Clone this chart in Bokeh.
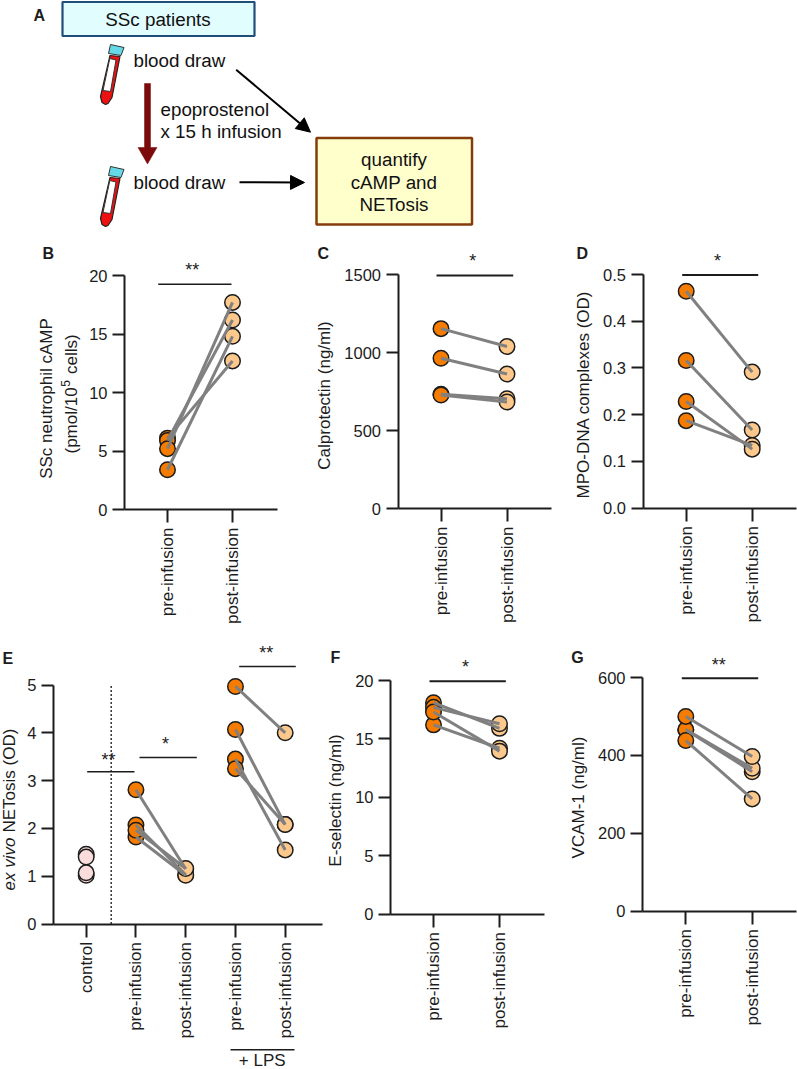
import math
from bokeh.plotting import figure
from bokeh.layouts import column, row
from bokeh.embed import file_html
from bokeh.resources import INLINE
from bokeh.models import (Range1d, FixedTicker, LinearAxis, Arrow, NormalHead)
from bokeh.core.properties import value

# ---- data ----
TICK_PREPOST = ["pre-infusion", "post-infusion"]
TICK_E = ["control", "pre-infusion", "post-infusion", "pre-infusion", "post-infusion"]

B_pre = [6.1, 5.9, 5.2, 3.4]
B_post = [12.7, 16.2, 17.7, 14.8]
B_ticks = [0, 5, 10, 15, 20]

C_pre = [1153, 963, 732, 728]
C_post = [1038, 862, 704, 683]
C_ticks = [0, 500, 1000, 1500]

D_pre = [0.464, 0.316, 0.187, 0.228]
D_post = [0.291, 0.167, 0.134, 0.126]
D_ticks = [0.0, 0.1, 0.2, 0.3, 0.4, 0.5]

E_control = [1.46, 1.02, 1.40, 1.07]
E_pre = [2.81, 2.07, 1.82, 1.96]
E_post = [1.15, 1.03, 1.02, 1.16]
E_lps_pre = [4.97, 4.07, 3.45, 3.25]
E_lps_post = [4.00, 2.08, 1.55, 2.08]
E_ticks = [0, 1, 2, 3, 4, 5]

F_pre = [18.1, 17.7, 16.2, 17.3]
F_post = [15.9, 16.3, 14.2, 13.95]
F_ticks = [0, 5, 10, 15, 20]

G_pre = [466, 466, 500, 438]
G_post = [358, 367, 397, 288]
G_ticks = [0, 200, 400, 600]

# ---- styles ----
FONT = "Liberation Sans"
DARK = "#1c1c1c"
ORANGE = "#F57C00"
PALE = "#FDC88B"
BLUSH = "#FBDCDC"
GREY = "#808080"
T_SIZE = "16.5px"
L_SIZE = "17px"
D_SIZE = "18.8px"
LETTER = "16px"
MARK = 15.5
V = math.pi / 2


class Panel:
    """A figure whose frame fills it; the axes sit at fixed data locations inside."""

    def __init__(self, fig, axis_x, right, y0, ytop, xt, ticks, xlabels, tick_fmt=None):
        fx, fy, w, h = fig
        self.sc_x = (xt[1] - xt[0]) / (len(xlabels) - 1)
        self.x0 = xt[0]
        self.y0 = y0
        self.sc_y = (y0 - ytop) / ticks[-1]
        p = figure(width=w, height=h, output_backend="svg", toolbar_location=None,
                   x_range=Range1d(self.x(fx), self.x(fx + w)),
                   y_range=Range1d(self.y(fy + h), self.y(fy)),
                   min_border=0, outline_line_color=None, background_fill_color="white",
                   border_fill_color="white", x_axis_location=None, y_axis_location=None)
        p.grid.visible = False
        self.p = p
        xa = LinearAxis(ticker=FixedTicker(ticks=list(range(1, len(xlabels) + 1))),
                        major_label_overrides={i + 1: t for i, t in enumerate(xlabels)},
                        major_label_orientation=V, major_tick_in=0, major_tick_out=13,
                        major_label_standoff=5, minor_tick_line_color=None,
                        fixed_location=0, bounds=(self.x(axis_x), self.x(right)),
                        major_label_text_font_size=L_SIZE)
        ya = LinearAxis(ticker=FixedTicker(ticks=ticks), major_tick_in=0, major_tick_out=12,
                        major_label_standoff=5, minor_tick_line_color=None,
                        fixed_location=self.x(axis_x), bounds=(0, ticks[-1]),
                        major_label_text_font_size=T_SIZE)
        if tick_fmt:
            ya.major_label_overrides = {t: tick_fmt % t for t in ticks}
        for a in (xa, ya):
            a.major_label_text_font = FONT
            a.major_label_text_color = DARK
            a.axis_line_color = DARK
            a.major_tick_line_color = DARK
            a.axis_line_width = 2
            a.major_tick_line_width = 2
        p.add_layout(xa, "below")
        p.add_layout(ya, "left")

    def x(self, px):
        return 1 + (px - self.x0) / self.sc_x

    def y(self, py):
        return (self.y0 - py) / self.sc_y

    def text(self, px, py, t, size=L_SIZE, angle=0, align="center", style="normal"):
        self.p.text([self.x(px)], [self.y(py)], text=[t], text_font=value(FONT), text_font_size=size,
                    text_color=DARK, text_font_style=style, angle=angle, text_align=align,
                    text_baseline="middle")

    def letter(self, px, py, t):
        self.text(px, py, t, size=LETTER, align="left", style="bold")

    def pairs(self, x1, x2, pre, post):
        self.p.scatter([x1] * len(pre), pre, size=MARK, fill_color=ORANGE, line_color=DARK, line_width=1.5)
        self.p.scatter([x2] * len(post), post, size=MARK, fill_color=PALE, line_color=DARK, line_width=1.5)
        self.p.multi_line([[x1, x2]] * len(pre), [[a, b] for a, b in zip(pre, post)],
                          line_color=GREY, line_width=3)

    def rule(self, x0, x1, py, width=1.6):
        self.p.line([self.x(x0), self.x(x1)], [self.y(py)] * 2, line_color=DARK, line_width=width)

    def sig(self, x0, x1, py, sx, sy, stars, width=1.6):
        self.rule(x0, x1, py, width)
        self.text(sx, sy, stars, size="18px")


# ---- panel A: a schematic drawn in page pixels ----
A = figure(width=797, height=236, output_backend="svg", toolbar_location=None,
           x_range=Range1d(0, 797), y_range=Range1d(236, 0),
           min_border=0, outline_line_color=None, background_fill_color="white",
           border_fill_color="white", x_axis_location=None, y_axis_location=None)
A.grid.visible = False
A.quad(left=[62], right=[254], top=[1.5], bottom=[35.5], fill_color="#E1FDFE", line_color="#1F4E79", line_width=2.2)
A.quad(left=[316], right=[471.5], top=[137.5], bottom=[224], fill_color="#FFFFCC", line_color="#843C0C", line_width=2.5)
for dy in (0, 122):
    A.patch([110, 123.5, 120.5, 108], [44 + dy, 47 + dy, 55 + dy, 53 + dy], fill_color="#66D9E8", line_color="#333333", line_width=1)
    A.patch([109.5, 119.5, 111.5, 107.5, 105, 101.5, 100],
            [55 + dy, 56 + dy, 97 + dy, 103 + dy, 104 + dy, 102 + dy, 96 + dy],
            fill_color="#EE1111", line_color="#222222", line_width=1.2)
    A.patch([109.3, 115.5, 110, 102.5], [58 + dy, 59.5 + dy, 91 + dy, 90 + dy], fill_color="white", line_color="#333333", line_width=1)
A.patch([144, 150, 150, 156.5, 147, 137.5, 144], [83, 83, 147, 147, 163.5, 147, 147], fill_color="#7B0A0A", line_color="#7B0A0A", line_width=0.5)
for xs, ys, xe, ye in ((235.7, 69.3, 310, 131.7), (239, 181.7, 304, 182)):
    A.add_layout(Arrow(end=NormalHead(size=14, fill_color="black", line_color="black"),
                       x_start=xs, y_start=ys, x_end=xe, y_end=ye, line_color="black", line_width=2))
A_text = [("SSc patients", 157.5, 19, "center"), ("blood draw", 133, 60, "left"), ("blood draw", 133, 182, "left"),
          ("epoprostenol", 160, 109, "left"), ("x 15 h infusion", 160, 131, "left"),
          ("quantify", 393.5, 159, "center"), ("cAMP and", 393.5, 182, "center"), ("NETosis", 393.5, 204, "center")]
for t, x, y, al in A_text:
    A.text([x], [y], text=[t], text_font=value(FONT), text_font_size=D_SIZE, text_color="#111111",
           text_align=al, text_baseline="middle")
A.text([33], [14.5], text=["A"], text_font=value(FONT), text_font_size=LETTER, text_font_style="bold",
       text_color=DARK, text_align="left", text_baseline="middle")

# ---- panel B ----
B = Panel((0, 236, 300, 404), 124, 277, 509, 275, (167, 232), B_ticks, TICK_PREPOST)
B.pairs(1, 2, B_pre, B_post)
B.sig(157.7, 231, 283.7, 191.7, 269, "**")
B.letter(42, 253, "B")
B.text(46, 398, "SSc neutrophil cAMP", angle=V)
B.text(70.5, 453, "(pmol/10", angle=V, align="left")
B.text(65, 383, "5", size="12px", angle=V)
B.text(70.5, 373.5, "cells)", angle=V, align="left")

# ---- panel C ----
C = Panel((300, 236, 260, 404), 397.5, 551, 508, 274, (440.5, 506.5), C_ticks, TICK_PREPOST)
C.pairs(1, 2, C_pre, C_post)
C.sig(436, 512.7, 275, 472.3, 260, "*", 2)
C.letter(317, 253, "C")
C.text(323.5, 395, "Calprotectin (ng/ml)", angle=V)

# ---- panel D ----
D = Panel((560, 236, 237, 404), 642.5, 796, 507.5, 274, (685.7, 751.7), D_ticks, TICK_PREPOST, tick_fmt="%.1f")
D.pairs(1, 2, D_pre, D_post)
D.sig(681.7, 757.7, 274.5, 717, 260, "*", 2)
D.letter(576, 253, "D")
D.text(583, 394, "MPO-DNA complexes (OD)", angle=V)

# ---- panel E ----
E = Panel((0, 640, 324, 429), 53, 322, 923.5, 684.5, (85.7, 284.7), E_ticks, TICK_E)
E.p.scatter([1] * len(E_control), E_control, size=MARK, fill_color=BLUSH, line_color=DARK, line_width=1.5)
E.pairs(2, 3, E_pre, E_post)
E.pairs(4, 5, E_lps_pre, E_lps_post)
E.p.line([E.x(110.7)] * 2, [0, 5], line_color="#333333", line_width=1.5, line_dash="2 2")
E.sig(86.7, 134, 771.3, 108, 759, "**")
E.sig(139, 196.3, 757, 165, 743, "*")
E.sig(238.7, 295.3, 666, 265.7, 652, "**")
E.letter(2, 658, "E")
E.text(8.5, 890, "ex vivo", angle=V, align="left", style="italic")
E.text(8.5, 832, "NETosis (OD)", angle=V, align="left")
E.rule(230, 294, 1049.3)
E.text(261.7, 1059.5, "+ LPS")

# ---- panel F ----
F = Panel((324, 640, 232, 429), 390, 544, 913.5, 680, (433, 499), F_ticks, TICK_PREPOST)
F.pairs(1, 2, F_pre, F_post)
F.sig(429, 505.3, 680.7, 465, 666, "*", 2)
F.letter(330, 657, "F")
F.text(335, 800, "E-selectin (ng/ml)", angle=V)

# ---- panel G ----
G = Panel((556, 640, 241, 429), 642, 796, 910.5, 677, (685.3, 751.7), G_ticks, TICK_PREPOST)
G.pairs(1, 2, G_pre, G_post)
G.sig(681.3, 757.7, 677.7, 718.3, 664, "**", 2)
G.letter(570.7, 657, "G")
G.text(578, 797, "VCAM-1 (ng/ml)", angle=V)

root = column(A, row(B.p, C.p, D.p, spacing=0), row(E.p, F.p, G.p, spacing=0), spacing=0)
open("out.html", "w").write(file_html(root, INLINE))
